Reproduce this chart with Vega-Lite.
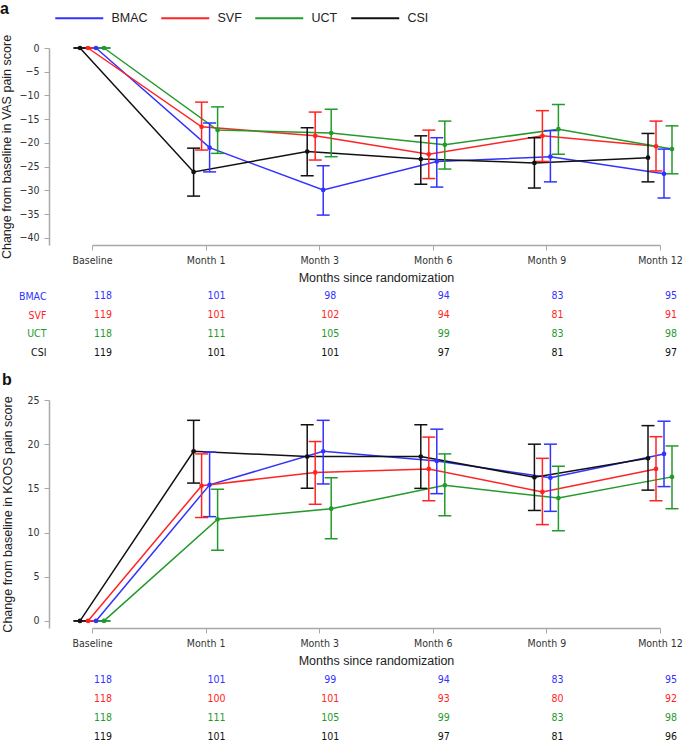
{
  "$schema": "https://vega.github.io/schema/vega-lite/v6.json",
  "padding": {"left": 0, "top": 1, "right": 0, "bottom": 0},
  "background": "white",
  "spacing": 10,
  "resolve": {"scale": {"color": "independent"}, "legend": {"color": "independent"}},
  "datasets": {
    "vas": [
      {"time": "Baseline", "group": "BMAC", "mean": 0, "lo": 0, "hi": 0},
      {"time": "Baseline", "group": "SVF", "mean": 0, "lo": 0, "hi": 0},
      {"time": "Baseline", "group": "UCT", "mean": 0, "lo": 0, "hi": 0},
      {"time": "Baseline", "group": "CSI", "mean": 0, "lo": 0, "hi": 0},
      {"time": "Month 1", "group": "BMAC", "mean": -21.0, "lo": -26.1, "hi": -15.8},
      {"time": "Month 1", "group": "SVF", "mean": -16.6, "lo": -21.5, "hi": -11.4},
      {"time": "Month 1", "group": "UCT", "mean": -17.3, "lo": -22.2, "hi": -12.4},
      {"time": "Month 1", "group": "CSI", "mean": -26.1, "lo": -31.2, "hi": -21.1},
      {"time": "Month 3", "group": "BMAC", "mean": -29.9, "lo": -35.2, "hi": -24.8},
      {"time": "Month 3", "group": "SVF", "mean": -18.5, "lo": -23.6, "hi": -13.5},
      {"time": "Month 3", "group": "UCT", "mean": -17.9, "lo": -22.9, "hi": -12.9},
      {"time": "Month 3", "group": "CSI", "mean": -21.8, "lo": -26.9, "hi": -16.8},
      {"time": "Month 6", "group": "BMAC", "mean": -23.9, "lo": -29.3, "hi": -18.9},
      {"time": "Month 6", "group": "SVF", "mean": -22.4, "lo": -27.5, "hi": -17.3},
      {"time": "Month 6", "group": "UCT", "mean": -20.4, "lo": -25.5, "hi": -15.4},
      {"time": "Month 6", "group": "CSI", "mean": -23.4, "lo": -28.7, "hi": -18.5},
      {"time": "Month 9", "group": "BMAC", "mean": -22.9, "lo": -28.2, "hi": -17.4},
      {"time": "Month 9", "group": "SVF", "mean": -18.5, "lo": -23.9, "hi": -13.2},
      {"time": "Month 9", "group": "UCT", "mean": -17.1, "lo": -22.4, "hi": -11.9},
      {"time": "Month 9", "group": "CSI", "mean": -24.2, "lo": -29.5, "hi": -18.9},
      {"time": "Month 12", "group": "BMAC", "mean": -26.5, "lo": -31.6, "hi": -21.3},
      {"time": "Month 12", "group": "SVF", "mean": -20.7, "lo": -25.9, "hi": -15.4},
      {"time": "Month 12", "group": "UCT", "mean": -21.3, "lo": -26.5, "hi": -16.4},
      {"time": "Month 12", "group": "CSI", "mean": -23.1, "lo": -28.2, "hi": -18.0}
    ],
    "koos": [
      {"time": "Baseline", "group": "BMAC", "mean": 0, "lo": 0, "hi": 0},
      {"time": "Baseline", "group": "SVF", "mean": 0, "lo": 0, "hi": 0},
      {"time": "Baseline", "group": "UCT", "mean": 0, "lo": 0, "hi": 0},
      {"time": "Baseline", "group": "CSI", "mean": 0, "lo": 0, "hi": 0},
      {"time": "Month 1", "group": "BMAC", "mean": 15.4, "lo": 11.8, "hi": 19.1},
      {"time": "Month 1", "group": "SVF", "mean": 15.3, "lo": 11.7, "hi": 18.9},
      {"time": "Month 1", "group": "UCT", "mean": 11.5, "lo": 8.0, "hi": 14.9},
      {"time": "Month 1", "group": "CSI", "mean": 19.2, "lo": 15.6, "hi": 22.7},
      {"time": "Month 3", "group": "BMAC", "mean": 19.2, "lo": 15.5, "hi": 22.7},
      {"time": "Month 3", "group": "SVF", "mean": 16.8, "lo": 13.2, "hi": 20.3},
      {"time": "Month 3", "group": "UCT", "mean": 12.7, "lo": 9.3, "hi": 16.2},
      {"time": "Month 3", "group": "CSI", "mean": 18.6, "lo": 15.0, "hi": 22.2},
      {"time": "Month 6", "group": "BMAC", "mean": 18.1, "lo": 14.4, "hi": 21.7},
      {"time": "Month 6", "group": "SVF", "mean": 17.2, "lo": 13.6, "hi": 20.8},
      {"time": "Month 6", "group": "UCT", "mean": 15.35, "lo": 11.9, "hi": 18.9},
      {"time": "Month 6", "group": "CSI", "mean": 18.6, "lo": 15.0, "hi": 22.2},
      {"time": "Month 9", "group": "BMAC", "mean": 16.2, "lo": 12.4, "hi": 20.0},
      {"time": "Month 9", "group": "SVF", "mean": 14.6, "lo": 10.9, "hi": 18.4},
      {"time": "Month 9", "group": "UCT", "mean": 13.9, "lo": 10.2, "hi": 17.5},
      {"time": "Month 9", "group": "CSI", "mean": 16.25, "lo": 12.5, "hi": 20.0},
      {"time": "Month 12", "group": "BMAC", "mean": 18.9, "lo": 15.2, "hi": 22.6},
      {"time": "Month 12", "group": "SVF", "mean": 17.2, "lo": 13.6, "hi": 20.85},
      {"time": "Month 12", "group": "UCT", "mean": 16.3, "lo": 12.7, "hi": 19.8},
      {"time": "Month 12", "group": "CSI", "mean": 18.4, "lo": 14.8, "hi": 22.1}
    ],
    "vas_n": [
      {"time": "Baseline", "group": "BMAC", "n": 118},
      {"time": "Month 1", "group": "BMAC", "n": 101},
      {"time": "Month 3", "group": "BMAC", "n": 98},
      {"time": "Month 6", "group": "BMAC", "n": 94},
      {"time": "Month 9", "group": "BMAC", "n": 83},
      {"time": "Month 12", "group": "BMAC", "n": 95},
      {"time": "Baseline", "group": "SVF", "n": 119},
      {"time": "Month 1", "group": "SVF", "n": 101},
      {"time": "Month 3", "group": "SVF", "n": 102},
      {"time": "Month 6", "group": "SVF", "n": 94},
      {"time": "Month 9", "group": "SVF", "n": 81},
      {"time": "Month 12", "group": "SVF", "n": 91},
      {"time": "Baseline", "group": "UCT", "n": 118},
      {"time": "Month 1", "group": "UCT", "n": 111},
      {"time": "Month 3", "group": "UCT", "n": 105},
      {"time": "Month 6", "group": "UCT", "n": 99},
      {"time": "Month 9", "group": "UCT", "n": 83},
      {"time": "Month 12", "group": "UCT", "n": 98},
      {"time": "Baseline", "group": "CSI", "n": 119},
      {"time": "Month 1", "group": "CSI", "n": 101},
      {"time": "Month 3", "group": "CSI", "n": 101},
      {"time": "Month 6", "group": "CSI", "n": 97},
      {"time": "Month 9", "group": "CSI", "n": 81},
      {"time": "Month 12", "group": "CSI", "n": 97}
    ],
    "koos_n": [
      {"time": "Baseline", "group": "BMAC", "n": 118},
      {"time": "Month 1", "group": "BMAC", "n": 101},
      {"time": "Month 3", "group": "BMAC", "n": 99},
      {"time": "Month 6", "group": "BMAC", "n": 94},
      {"time": "Month 9", "group": "BMAC", "n": 83},
      {"time": "Month 12", "group": "BMAC", "n": 95},
      {"time": "Baseline", "group": "SVF", "n": 118},
      {"time": "Month 1", "group": "SVF", "n": 100},
      {"time": "Month 3", "group": "SVF", "n": 101},
      {"time": "Month 6", "group": "SVF", "n": 93},
      {"time": "Month 9", "group": "SVF", "n": 80},
      {"time": "Month 12", "group": "SVF", "n": 92},
      {"time": "Baseline", "group": "UCT", "n": 118},
      {"time": "Month 1", "group": "UCT", "n": 111},
      {"time": "Month 3", "group": "UCT", "n": 105},
      {"time": "Month 6", "group": "UCT", "n": 99},
      {"time": "Month 9", "group": "UCT", "n": 83},
      {"time": "Month 12", "group": "UCT", "n": 98},
      {"time": "Baseline", "group": "CSI", "n": 119},
      {"time": "Month 1", "group": "CSI", "n": 101},
      {"time": "Month 3", "group": "CSI", "n": 101},
      {"time": "Month 6", "group": "CSI", "n": 97},
      {"time": "Month 9", "group": "CSI", "n": 81},
      {"time": "Month 12", "group": "CSI", "n": 96}
    ]
  },
  "config": {
    "view": {"stroke": null},
    "axis": {
      "grid": false,
      "domainColor": "#a8a8a8",
      "tickColor": "#a8a8a8",
      "domainWidth": 1.5,
      "labelColor": "#333333",
      "labelFont": "DejaVu Sans Condensed, sans-serif",
      "labelFontSize": 10.5,
      "labelOverlap": false,
      "titleFont": "Liberation Sans, Arial, sans-serif",
      "titleFontWeight": "normal",
      "titleFontSize": 12.5,
      "titleColor": "#222222"
    },
    "title": {"font": "Liberation Sans, Arial, sans-serif", "fontSize": 16, "fontWeight": "bold", "color": "#111111"}
  },
  "vconcat": [
    {
      "spacing": 3,
      "resolve": {"scale": {"color": "independent"}, "legend": {"color": "independent"}},
      "vconcat": [
        {
          "title": {"text": "a", "anchor": "start", "frame": "bounds", "offset": -5},
          "width": 635,
          "height": 197,
          "data": {"name": "vas"},
          "encoding": {
            "x": {"field": "time", "type": "ordinal",
              "scale": {"type": "point", "domain": ["Baseline", "Month 1", "Month 3", "Month 6", "Month 9", "Month 12"], "range": [43, 611], "padding": 0},
              "axis": {"title": "Months since randomization", "labelAngle": 0, "tickSize": 5, "labelPadding": 5, "titlePadding": 6}},
            "xOffset": {"field": "group", "type": "nominal", "scale": {"type": "point", "domain": ["CSI", "SVF", "BMAC", "UCT"], "range": [-12, 12], "padding": 0}},
            "color": {"field": "group", "type": "nominal",
              "scale": {"domain": ["BMAC", "SVF", "UCT", "CSI"], "range": ["#3232ff", "#ff2424", "#249a2c", "#111111"]},
              "legend": {"title": null, "orient": "none", "direction": "horizontal", "legendX": 48, "legendY": -36,
                "gridAlign": "none",
                "symbolType": "M-9.6,0H0", "symbolSize": 100, "symbolStrokeWidth": 2, "labelFont": "Liberation Sans, Arial, sans-serif",
                "labelFontSize": 12.5, "labelColor": "#222222", "labelOffset": 2, "columnPadding": 9}}
          },
          "layer": [
            {"mark": {"type": "line", "strokeWidth": 1.5},
             "encoding": {"y": {"field": "mean", "type": "quantitative", "scale": {"domain": [-41.5, 0], "nice": false, "zero": false},
               "axis": {"title": "Change from baseline in VAS pain score", "values": [0, -5, -10, -15, -20, -25, -30, -35, -40], "tickSize": 5, "labelPadding": 5, "titlePadding": 6}}}},
            {"mark": {"type": "rule", "strokeWidth": 1.5},
             "encoding": {"y": {"field": "lo", "type": "quantitative", "axis": {"title": "Change from baseline in VAS pain score", "values": [0, -5, -10, -15, -20, -25, -30, -35, -40], "tickSize": 5, "labelPadding": 5, "titlePadding": 6}}, "y2": {"field": "hi"}}},
            {"mark": {"type": "tick", "orient": "horizontal", "size": 13, "thickness": 1.5, "opacity": 1},
             "encoding": {"y": {"field": "lo", "type": "quantitative", "axis": {"title": "Change from baseline in VAS pain score", "values": [0, -5, -10, -15, -20, -25, -30, -35, -40], "tickSize": 5, "labelPadding": 5, "titlePadding": 6}}}},
            {"mark": {"type": "tick", "orient": "horizontal", "size": 13, "thickness": 1.5, "opacity": 1},
             "encoding": {"y": {"field": "hi", "type": "quantitative", "axis": {"title": "Change from baseline in VAS pain score", "values": [0, -5, -10, -15, -20, -25, -30, -35, -40], "tickSize": 5, "labelPadding": 5, "titlePadding": 6}}}},
            {"mark": {"type": "point", "filled": true, "size": 22, "opacity": 1},
             "encoding": {"y": {"field": "mean", "type": "quantitative", "axis": {"title": "Change from baseline in VAS pain score", "values": [0, -5, -10, -15, -20, -25, -30, -35, -40], "tickSize": 5, "labelPadding": 5, "titlePadding": 6}}}}
          ]
        },
        {
          "width": 635,
          "height": 75,
          "data": {"name": "vas_n"},
          "mark": {"type": "text", "fontSize": 10.5, "font": "DejaVu Sans Condensed, sans-serif", "dx": 11},
          "encoding": {
            "x": {"field": "time", "type": "ordinal",
              "scale": {"type": "point", "domain": ["Baseline", "Month 1", "Month 3", "Month 6", "Month 9", "Month 12"], "range": [43, 611], "padding": 0},
              "axis": null},
            "y": {"field": "group", "type": "nominal", "scale": {"domain": ["BMAC", "SVF", "UCT", "CSI"], "paddingInner": 0, "paddingOuter": 0},
              "axis": {"title": null, "domain": false, "ticks": false, "labelPadding": 3,
                "labelColor": {"condition": [
                  {"test": "datum.value == 'BMAC'", "value": "#3232ff"},
                  {"test": "datum.value == 'SVF'", "value": "#ff2424"},
                  {"test": "datum.value == 'UCT'", "value": "#249a2c"}], "value": "#111111"}}},
            "text": {"field": "n", "type": "quantitative"},
            "color": {"field": "group", "type": "nominal", "legend": null,
              "scale": {"domain": ["BMAC", "SVF", "UCT", "CSI"], "range": ["#3232ff", "#ff2424", "#249a2c", "#111111"]}}
          }
        }
      ]
    },
    {
      "spacing": 3,
      "resolve": {"scale": {"color": "independent"}, "legend": {"color": "independent"}},
      "vconcat": [
        {
          "title": {"text": "b", "anchor": "start", "frame": "bounds", "offset": 7},
          "width": 635,
          "height": 228,
          "data": {"name": "koos"},
          "encoding": {
            "x": {"field": "time", "type": "ordinal",
              "scale": {"type": "point", "domain": ["Baseline", "Month 1", "Month 3", "Month 6", "Month 9", "Month 12"], "range": [43, 611], "padding": 0},
              "axis": {"title": "Months since randomization", "labelAngle": 0, "tickSize": 5, "labelPadding": 5, "titlePadding": 6}},
            "xOffset": {"field": "group", "type": "nominal", "scale": {"type": "point", "domain": ["CSI", "SVF", "BMAC", "UCT"], "range": [-12, 12], "padding": 0}},
            "color": {"field": "group", "type": "nominal", "legend": null,
              "scale": {"domain": ["BMAC", "SVF", "UCT", "CSI"], "range": ["#3232ff", "#ff2424", "#249a2c", "#111111"]}}
          },
          "layer": [
            {"mark": {"type": "line", "strokeWidth": 1.5},
             "encoding": {"y": {"field": "mean", "type": "quantitative", "scale": {"domain": [-0.8, 25], "nice": false, "zero": false},
               "axis": {"title": "Change from baseline in KOOS pain score", "values": [0, 5, 10, 15, 20, 25], "tickSize": 5, "labelPadding": 5, "titlePadding": 12}}}},
            {"mark": {"type": "rule", "strokeWidth": 1.5},
             "encoding": {"y": {"field": "lo", "type": "quantitative", "axis": {"title": "Change from baseline in KOOS pain score", "values": [0, 5, 10, 15, 20, 25], "tickSize": 5, "labelPadding": 5, "titlePadding": 12}}, "y2": {"field": "hi"}}},
            {"mark": {"type": "tick", "orient": "horizontal", "size": 13, "thickness": 1.5, "opacity": 1},
             "encoding": {"y": {"field": "lo", "type": "quantitative", "axis": {"title": "Change from baseline in KOOS pain score", "values": [0, 5, 10, 15, 20, 25], "tickSize": 5, "labelPadding": 5, "titlePadding": 12}}}},
            {"mark": {"type": "tick", "orient": "horizontal", "size": 13, "thickness": 1.5, "opacity": 1},
             "encoding": {"y": {"field": "hi", "type": "quantitative", "axis": {"title": "Change from baseline in KOOS pain score", "values": [0, 5, 10, 15, 20, 25], "tickSize": 5, "labelPadding": 5, "titlePadding": 12}}}},
            {"mark": {"type": "point", "filled": true, "size": 22, "opacity": 1},
             "encoding": {"y": {"field": "mean", "type": "quantitative", "axis": {"title": "Change from baseline in KOOS pain score", "values": [0, 5, 10, 15, 20, 25], "tickSize": 5, "labelPadding": 5, "titlePadding": 12}}}}
          ]
        },
        {
          "width": 635,
          "height": 76,
          "data": {"name": "koos_n"},
          "mark": {"type": "text", "fontSize": 10.5, "font": "DejaVu Sans Condensed, sans-serif", "dx": 11},
          "encoding": {
            "x": {"field": "time", "type": "ordinal",
              "scale": {"type": "point", "domain": ["Baseline", "Month 1", "Month 3", "Month 6", "Month 9", "Month 12"], "range": [43, 611], "padding": 0},
              "axis": null},
            "y": {"field": "group", "type": "nominal", "scale": {"domain": ["BMAC", "SVF", "UCT", "CSI"], "paddingInner": 0, "paddingOuter": 0}, "axis": null},
            "text": {"field": "n", "type": "quantitative"},
            "color": {"field": "group", "type": "nominal", "legend": null,
              "scale": {"domain": ["BMAC", "SVF", "UCT", "CSI"], "range": ["#3232ff", "#ff2424", "#249a2c", "#111111"]}}
          }
        }
      ]
    }
  ]
}
